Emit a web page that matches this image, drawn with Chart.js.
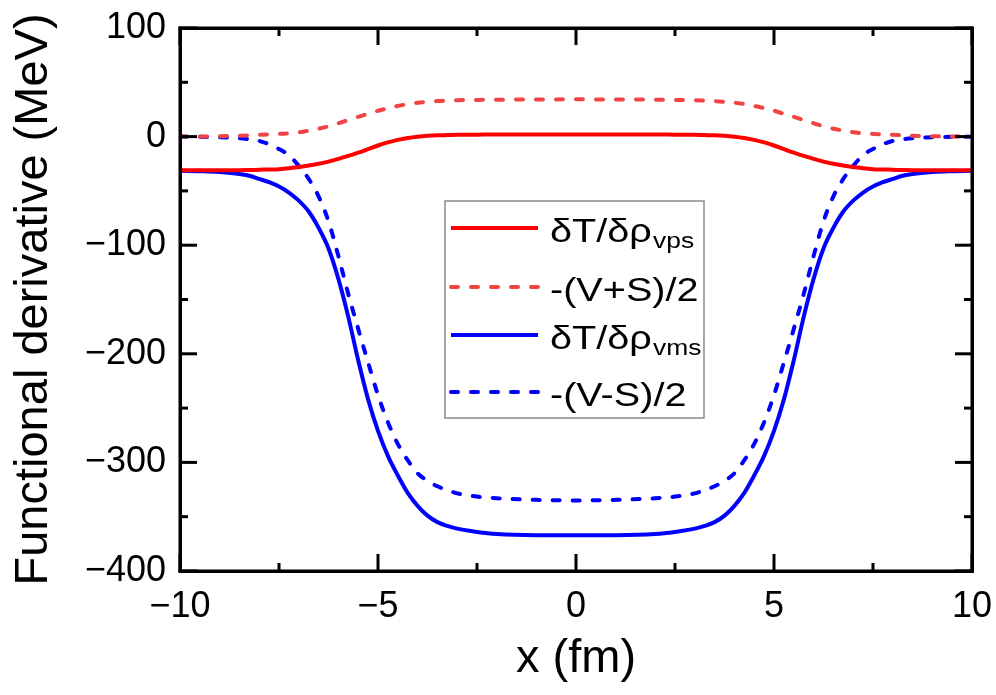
<!DOCTYPE html>
<html>
<head>
<meta charset="utf-8">
<script src="https://cdn.jsdelivr.net/npm/chart.js@4/dist/chart.umd.min.js"></script>
<style>
  body { margin: 0; background: #fff; }
  #wrap { position: relative; width: 996px; height: 695px; }
  #box { position: absolute; box-sizing: border-box; border: 3px solid #000; pointer-events: none; }
</style>
</head>
<body>
<div id="wrap"><canvas id="myChart" width="996" height="695"></canvas><div id="box"></div></div>
<script>
// x positions (fm)
const xs = [-10, -9.5, -9, -8.5, -8.25, -8, -7.75, -7.5, -7.25, -7, -6.75, -6.5, -6.25, -6, -5.75, -5.5, -5.25, -5, -4.75, -4.5,
  -4.25, -4, -3.75, -3.5, -3.25, -3, -2.5, -2, -1, 0,
  1, 2, 2.5, 3, 3.25, 3.5, 3.75, 4, 4.25, 4.5, 4.75, 5, 5.25, 5.5, 5.75, 6, 6.25, 6.5, 6.75, 7,
  7.25, 7.5, 7.75, 8, 8.25, 8.5, 9, 9.5, 10];

// dT/drho_vps
const redSolid = [-31, -31, -31, -31, -30.8, -30.5, -30.3, -30, -29.2, -28, -26.7, -25, -23, -20.5, -17.8, -14.8, -11.5, -8.2, -5.3, -3,
  -1.3, -0.1, 0.7, 1.2, 1.4, 1.6, 1.8, 2, 2, 2,
  2, 2, 1.8, 1.6, 1.4, 1.2, 0.7, -0.1, -1.3, -3, -5.3, -8.2, -11.5, -14.8, -17.8, -20.5, -23, -25, -26.7, -28,
  -29.2, -30, -30.3, -30.5, -30.8, -31, -31, -31, -31];

// -(V+S)/2
const redDashed = [0, 0.1, 0.3, 0.8, 1.2, 1.7, 2.1, 2.5, 3.1, 4, 5.5, 7.3, 9.5, 12.3, 15.2, 18.2, 21, 23.8, 26.2, 28.2,
  30, 31.2, 32, 32.7, 33.1, 33.5, 33.8, 34, 34.2, 34.3,
  34.2, 34, 33.8, 33.5, 33.1, 32.7, 32, 31.2, 30, 28.2, 26.2, 23.8, 21, 18.2, 15.2, 12.3, 9.5, 7.3, 5.5, 4,
  3.1, 2.5, 2.1, 1.7, 1.2, 0.8, 0.3, 0.1, 0];

// dT/drho_vms
const blueSolid = [-31.5, -31.8, -32.5, -34.5, -36, -39, -42, -46, -51.5, -59, -69, -84, -103, -131, -166, -206, -242, -271, -294, -312,
  -328, -340, -349, -355, -358.5, -361, -364, -366, -367, -367,
  -367, -366, -364, -361, -358.5, -355, -349, -340, -328, -312, -294, -271, -242, -206, -166, -131, -103, -84, -69, -59,
  -51.5, -46, -42, -39, -36, -34.5, -32.5, -31.8, -31.5];

// -(V-S)/2
const blueDashed = [0, -0.2, -0.5, -1.5, -2.5, -4, -7, -11.5, -17, -27, -39, -55, -78, -110, -145, -177, -208, -238, -263, -283,
  -298, -310, -317, -322, -325.5, -328.5, -331.5, -333, -334.5, -335,
  -334.5, -333, -331.5, -328.5, -325.5, -322, -317, -310, -298, -283, -263, -238, -208, -177, -145, -110, -78, -55, -39, -27,
  -17, -11.5, -7, -4, -2.5, -1.5, -0.5, -0.2, 0];

const xTicks = [-10, -5, 0, 5, 10];
const yTicks = [-400, -300, -200, -100, 0, 100];

const DASH = [7, 13];
const FONT = '"Liberation Sans", Arial, sans-serif';

const legendItems = [
  { main: 'δT/δρ', sub: 'vps', color: '#ff0000', dash: [] },
  { main: '-(V+S)/2', sub: '', color: '#f04444', dash: DASH },
  { main: 'δT/δρ', sub: 'vms', color: '#0000ff', dash: [] },
  { main: '-(V-S)/2', sub: '', color: '#0000ff', dash: DASH }
];

function pts(arr) {
  return xs.map(function (x, i) { return { x: x, y: arr[i] }; });
}

function minus(v) {
  return String(v).replace('-', '\u2212');
}

// frame, inward ticks on all four sides, and the legend box
const framePlugin = {
  id: 'frame',
  afterDraw(chart) {
    const c = chart.ctx;
    const a = chart.chartArea;
    const sx = chart.scales.x, sy = chart.scales.y;
    c.save();
    c.setLineDash([]);
    c.fillStyle = '#000';
    c.fillRect(a.left - 1.5, a.top - 1.5, a.right - a.left + 3, 3);
    c.fillRect(a.left - 1.5, a.bottom - 1.5, a.right - a.left + 3, 3);
    c.fillRect(a.left - 1.5, a.top - 1.5, 3, a.bottom - a.top + 3);
    c.fillRect(a.right - 1.5, a.top - 1.5, 3, a.bottom - a.top + 3);
    for (let v = -10; v <= 10; v += 2.5) {
      const p = sx.getPixelForValue(v);
      const len = (v % 5 === 0) ? 17 : 8;
      c.fillRect(p - 1.5, a.bottom - len, 3, len);
      c.fillRect(p - 1.5, a.top, 3, len);
    }
    for (let v = -400; v <= 100; v += 50) {
      const p = sy.getPixelForValue(v);
      const len = (v % 100 === 0) ? 17 : 8;
      c.fillRect(a.left, p - 1.5, len, 3);
      c.fillRect(a.right - len, p - 1.5, len, 3);
    }

    // legend
    const bx = 445, by = 201, bw = 259, bh = 217;
    const rows = [27, 86, 134, 191];
    c.fillStyle = '#fff';
    c.fillRect(bx, by, bw, bh);
    c.strokeStyle = '#8a8a8a';
    c.lineWidth = 1.5;
    c.strokeRect(bx, by, bw, bh);
    legendItems.forEach(function (item, i) {
      const ly = by + rows[i];
      c.beginPath();
      c.strokeStyle = item.color;
      c.lineWidth = 4;
      c.lineCap = item.dash.length ? 'round' : 'butt';
      c.setLineDash(item.dash);
      c.moveTo(bx + 6, ly);
      c.lineTo(bx + 93, ly);
      c.stroke();
      c.setLineDash([]);
      c.fillStyle = '#000';
      c.textBaseline = 'alphabetic';
      // text in the reference is a bit wide for its height
      c.save();
      c.translate(bx + 105, ly + 14);
      c.scale(1.2, 1);
      c.font = '33px ' + FONT;
      c.fillText(item.main, 0, 0);
      if (item.sub) {
        const tw = c.measureText(item.main).width;
        c.font = '22px ' + FONT;
        c.fillText(item.sub, tw + 1, 6);
      }
      c.restore();
    });
    c.restore();

    // plot frame as an overlay too
    const box = document.getElementById('box');
    box.style.left = (a.left - 1.5) + 'px';
    box.style.top = (a.top - 1.5) + 'px';
    box.style.width = (a.right - a.left + 3) + 'px';
    box.style.height = (a.bottom - a.top + 3) + 'px';
  }
};

const ctx = document.getElementById('myChart').getContext('2d');

const myChart = new Chart(ctx, {
  type: 'line',
  data: {
    datasets: [{
      label: 'dT/drho_vps',
      data: pts(redSolid),
      borderColor: '#ff0000',
      borderWidth: 4
    }, {
      label: '-(V+S)/2',
      data: pts(redDashed),
      borderColor: '#f04444',
      borderWidth: 4,
      borderDash: DASH,
      borderCapStyle: 'round'
    }, {
      label: 'dT/drho_vms',
      data: pts(blueSolid),
      borderColor: '#0000ff',
      borderWidth: 4
    }, {
      label: '-(V-S)/2',
      data: pts(blueDashed),
      borderColor: '#0000ff',
      borderWidth: 4,
      borderDash: DASH,
      borderCapStyle: 'round'
    }]
  },
  options: {
    responsive: false,
    animation: false,
    layout: { padding: { left: 0, right: 24, top: 28, bottom: 0 } },
    elements: {
      point: { radius: 0 },
      line: { cubicInterpolationMode: 'monotone', fill: false }
    },
    plugins: {
      legend: { display: false },
      tooltip: { enabled: false }
    },
    scales: {
      x: {
        type: 'linear',
        min: -10,
        max: 10,
        afterBuildTicks: function (s) { s.ticks = xTicks.map(function (v) { return { value: v }; }); },
        afterFit: function (s) { s.height = 124; s.paddingLeft = 0; s.paddingRight = 0; },
        grid: { display: false, drawTicks: false },
        border: { display: false },
        ticks: {
          color: '#000',
          padding: 14,
          maxRotation: 0,
          font: { family: FONT, size: 36 },
          callback: function (v) { return minus(v); }
        },
        title: {
          display: true,
          text: 'x (fm)',
          color: '#000',
          padding: { top: 0, bottom: 12 },
          font: { family: FONT, size: 47, lineHeight: 1 }
        }
      },
      y: {
        type: 'linear',
        min: -400,
        max: 100,
        afterBuildTicks: function (s) { s.ticks = yTicks.map(function (v) { return { value: v }; }); },
        afterFit: function (s) { s.width = 180; s.paddingTop = 0; s.paddingBottom = 0; },
        grid: { display: false, drawTicks: false },
        border: { display: false },
        ticks: {
          color: '#000',
          padding: 14,
          font: { family: FONT, size: 36 },
          callback: function (v) { return minus(v); }
        },
        title: {
          display: true,
          text: 'Functional derivative (MeV)',
          color: '#000',
          padding: { top: 11, bottom: 0 },
          font: { family: FONT, size: 47, lineHeight: 1 }
        }
      }
    }
  },
  plugins: [framePlugin]
});
</script>
</body>
</html>
